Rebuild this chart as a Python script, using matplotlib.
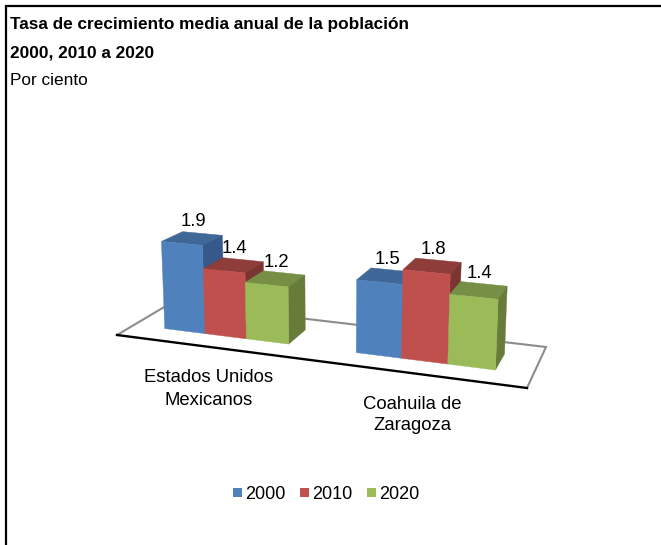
import numpy as np
import matplotlib
matplotlib.use('Agg')
import matplotlib.pyplot as plt
from matplotlib.patches import Polygon, Rectangle

plt.rcParams['font.family'] = ['Liberation Sans', 'DejaVu Sans']

categories = ['Estados Unidos\nMexicanos', 'Coahuila de\nZaragoza']
years = ['2000', '2010', '2020']
values_2000 = [1.9, 1.5]
values_2010 = [1.4, 1.8]
values_2020 = [1.2, 1.4]

front_colors = ['#4F81BD', '#C0504D', '#9BBB59']
top_colors = ['#3F6797', '#8F3D3A', '#768F45']
side_colors = ['#36588A', '#7A3432', '#677C3B']

W, H = 661, 545

# corners of the chart floor on the page: front left, front right, back right, back left
floor_corners = np.array([[117, 335], [527, 388], [546, 347], [171, 303]], dtype=float)
bar_front, bar_back = 0.30, 0.70   # depth of the bars on the floor
gap = 0.085                        # free space each side of a group, in floor widths
height_unit = 46.8                 # pixels per 1 percent
tilt = 0.00023


def floor_matrix(c):
    # homography from the unit square to the page
    d1 = c[1] - c[2]
    d2 = c[3] - c[2]
    d3 = c[0] - c[1] + c[2] - c[3]
    g, h = np.linalg.solve(np.column_stack([d1, d2]), d3)
    return np.array([
        [c[1][0] - c[0][0] + g * c[1][0], c[3][0] - c[0][0] + h * c[3][0], c[0][0]],
        [c[1][1] - c[0][1] + g * c[1][1], c[3][1] - c[0][1] + h * c[3][1], c[0][1]],
        [g, h, 1],
    ])


M = floor_matrix(floor_corners)


def project(u, v, z=0.0):
    p = M @ np.array([u, v, 1.0])
    x, y = p[0] / p[2], p[1] / p[2]
    rise = height_unit * z / p[2]
    return x + (x - 330) * tilt * rise, y - rise


def draw_bar(ax, u0, u1, value, i):
    base = [project(u0, bar_front), project(u1, bar_front), project(u1, bar_back), project(u0, bar_back)]
    top = [project(u0, bar_front, value), project(u1, bar_front, value),
           project(u1, bar_back, value), project(u0, bar_back, value)]
    ax.add_patch(Polygon(top, fc=top_colors[i], ec=top_colors[i], lw=0.3))
    ax.add_patch(Polygon([base[1], base[2], top[2], top[1]], fc=side_colors[i], ec=side_colors[i], lw=0.3))
    ax.add_patch(Polygon([base[0], base[1], top[1], top[0]], fc=front_colors[i], ec=front_colors[i], lw=0.3))
    cx, cy = project((u0 + u1) / 2, (bar_front + bar_back) / 2, value)
    ax.text(cx + 1, cy - 16.5, f'{value:.1f}', fontsize=13.3, ha='center', va='center', color='black')


fig = plt.figure(figsize=(W / 100, H / 100), dpi=100)
ax = fig.add_axes([0, 0, 1, 1])
ax.set_xlim(0, W)
ax.set_ylim(H, 0)
ax.axis('off')

# outer frame, only left and top are inside the picture
ax.plot([6, 6, W], [H, 5.5, 5.5], color='black', lw=1.6, solid_joinstyle='miter')

# floor goes behind the bars
back = [floor_corners[0], floor_corners[3], floor_corners[2], floor_corners[1]]
ax.plot(*zip(*back), color='#8C8C8C', lw=1.5, solid_joinstyle='miter', zorder=0.5)
ax.plot(*zip(floor_corners[0], floor_corners[1]), color='black', lw=1.7, zorder=0.6)

series = [values_2000, values_2010, values_2020]
group_w = 0.5
bw = (group_w - 2 * gap) / len(series)
for g in range(len(categories)):
    for i, vals in enumerate(series):
        u0 = g * group_w + gap + i * bw
        draw_bar(ax, u0, u0 + bw, vals[g], i)

ax.text(10, 24.5, 'Tasa de crecimiento media anual de la población', fontsize=12.45, fontweight='bold', va='center')
ax.text(10, 52.5, '2000, 2010 a 2020', fontsize=12.45, fontweight='bold', va='center')
ax.text(10, 80.5, 'Por ciento', fontsize=12.4, va='center')

ax.text(209, 389, categories[0], fontsize=13.3, ha='center', va='center', linespacing=1.42)
ax.text(412, 415, categories[1], fontsize=13.3, ha='center', va='center', linespacing=1.38)

for i, year in enumerate(years):
    x = 233 + i * 67
    ax.add_patch(Rectangle((x, 488), 9, 9, fc=front_colors[i], ec='none'))
    ax.text(x + 12, 494.5, year, fontsize=13, va='center')

fig.savefig('out.png', dpi=100)
